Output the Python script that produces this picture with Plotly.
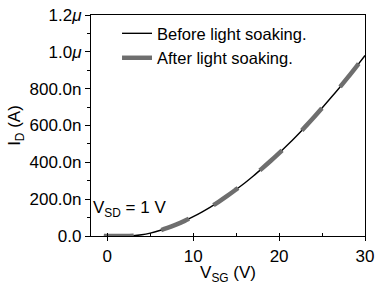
import plotly.graph_objects as go

# Data (V_SG in volts, I_D in microamps)
vsg = [-0.4, 1, 2, 2.5, 3, 4, 5, 6, 7, 8, 9, 10, 11, 12, 13, 14, 15, 16, 17, 18,
       19, 20, 21, 22, 23, 24, 25, 26, 27, 28, 29, 30]
id_before = [0.0, 0.0, 0.0, 0.0, 0.001, 0.0066, 0.0159, 0.0283, 0.0436, 0.0615,
             0.082, 0.105, 0.130, 0.157, 0.187, 0.219, 0.253, 0.288, 0.326, 0.366,
             0.407, 0.450, 0.495, 0.542, 0.591, 0.642, 0.695, 0.749, 0.804, 0.861,
             0.920, 0.980]
id_after = [0.0, 0.0, 0.0, 0.0, 0.001, 0.0066, 0.0159, 0.0283, 0.0436, 0.0615,
            0.082, 0.105, 0.130, 0.157, 0.187, 0.219, 0.253, 0.288, 0.326, 0.366,
            0.407, 0.450, 0.495, 0.542, 0.591, 0.642, 0.695, 0.749, 0.804, 0.861,
            0.920, 0.980]

y_tickvals = [0.0, 0.2, 0.4, 0.6, 0.8, 1.0, 1.2]
y_ticktext = ["0.0", "200.0n", "400.0n", "600.0n", "800.0n", "1.0<i>μ</i>", "1.2<i>μ</i>"]
x_tickvals = [0, 10, 20, 30]

FONT = "Liberation Sans, Arial, sans-serif"

fig = go.Figure()
fig.add_trace(go.Scatter(
    x=vsg, y=id_before, mode="lines", name="Before light soaking.",
    line=dict(color="black", width=1.4, shape="spline"),
))
fig.add_trace(go.Scatter(
    x=vsg, y=id_after, mode="lines", name="After light soaking.",
    line=dict(color="#6e6e6e", width=4.5, dash="30px,28px", shape="spline"),
))

fig.add_annotation(
    x=0.0, y=0.148, xref="paper", yref="y", xanchor="left", yanchor="middle",
    text="V<sub>SD</sub> = 1 V", showarrow=False,
    font=dict(size=17, color="black", family=FONT),
)

fig.update_layout(
    width=377, height=285,
    margin=dict(l=91, r=12, t=15, b=49),
    paper_bgcolor="white", plot_bgcolor="white",
    font=dict(family=FONT, size=17, color="black"),
    showlegend=True,
    legend=dict(
        x=0.095, y=0.995, xanchor="left", yanchor="top",
        bgcolor="rgba(0,0,0,0)", font=dict(size=16.5),
        tracegroupgap=0, itemwidth=30,
    ),
    xaxis=dict(
        range=[-1.9, 30], tickvals=x_tickvals, automargin=False,
        showgrid=False, zeroline=False,
        showline=True, linecolor="black", linewidth=1.2, mirror=True,
        ticks="outside", ticklen=4, tickwidth=1.2, tickcolor="black",
        minor=dict(dtick=5, tick0=0, ticks="inside", ticklen=3, tickwidth=1.2, tickcolor="black"),
        title=dict(text="V<sub>SG</sub> (V)", standoff=0, font=dict(size=17)),
        tickfont=dict(size=17),
    ),
    yaxis=dict(
        range=[0, 1.2], tickvals=y_tickvals, ticktext=y_ticktext, automargin=False,
        showgrid=False, zeroline=False,
        showline=True, linecolor="black", linewidth=1.2, mirror=True,
        ticks="outside", ticklen=5, tickwidth=1.2, tickcolor="black",
        minor=dict(dtick=0.1, tick0=0, ticks="outside", ticklen=3, tickwidth=1.2, tickcolor="black"),
        title=dict(text="I<sub>D</sub> (A)", standoff=4, font=dict(size=17)),
        tickfont=dict(size=17),
    ),
)

fig.write_html("out.html")
